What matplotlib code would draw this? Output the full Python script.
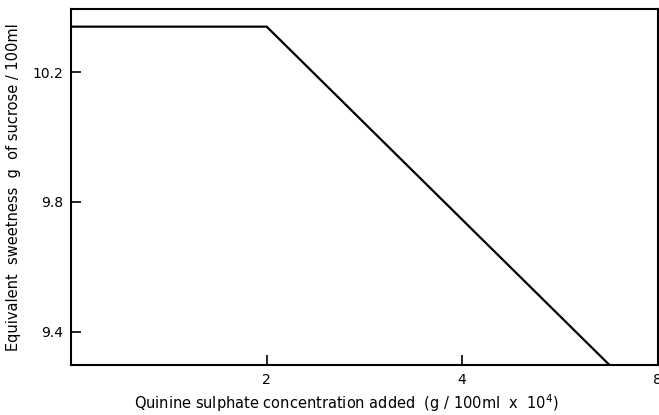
import matplotlib
matplotlib.use("Agg")
import matplotlib.pyplot as plt

# quinine concentration (g/100ml x 10^4) vs equivalent sweetness
conc = [0.0, 2.0, 5.5]
sweetness = [10.34, 10.34, 9.30]
xticks = [2, 4, 6]
xtick_labels = ['2', '4', '8']
yticks = [9.4, 9.8, 10.2]
ytick_labels = ['9.4', '9.8', '10.2']

fig = plt.figure(figsize=(6.59, 4.15), dpi=100)
ax = fig.add_axes([0.108, 0.1205, 0.89, 0.8575])

ax.plot(conc, sweetness, color='black', lw=1.6, solid_joinstyle='miter')

ax.set_xlim(0, 6)
ax.set_ylim(9.298, 10.394)
ax.set_xticks(xticks)
ax.set_xticklabels(xtick_labels)
ax.set_yticks(yticks)
ax.set_yticklabels(ytick_labels)
ax.tick_params(direction='in', length=7, width=1.2, labelsize=10, pad=6)

for s in ax.spines.values():
    s.set_linewidth(1.5)

ax.set_xlabel('Quinine sulphate concentration added  (g / 100ml  x  10$^4$)', fontsize=10.5)
ax.set_ylabel('Equivalent  sweetness  g  of sucrose / 100ml', fontsize=10.5)
ax.xaxis.set_label_coords(0.47, -0.078)
ax.yaxis.set_label_coords(-0.085, 0.5)

fig.savefig('out.png', dpi=100)
